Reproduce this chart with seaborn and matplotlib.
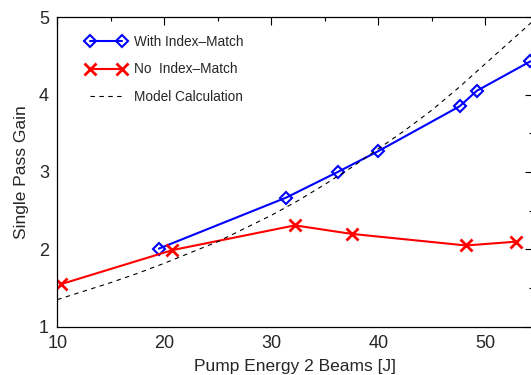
import matplotlib
matplotlib.use("Agg")
import matplotlib.pyplot as plt
from matplotlib.ticker import MultipleLocator
import seaborn as sns
import pandas as pd

# ---- data ----
with_x = [19.5, 31.4, 36.2, 40.0, 47.6, 49.2, 54.2]
with_y = [2.01, 2.67, 3.00, 3.27, 3.85, 4.05, 4.43]

no_x = [10.35, 20.75, 32.2, 37.5, 48.2, 52.9]
no_y = [1.55, 1.99, 2.31, 2.20, 2.05, 2.10]

model_x = [10, 12.5, 15, 17.5, 20, 22.5, 25, 27.5, 30, 32.5, 35, 37.5,
           40, 42.5, 45, 47.5, 50, 52.5, 55]
model_y = [1.35, 1.46, 1.57, 1.69, 1.82, 1.96, 2.10, 2.27, 2.44, 2.63, 2.84,
           3.06, 3.30, 3.54, 3.80, 4.09, 4.40, 4.71, 5.02]

labels = ["With Index\u2013Match", "No  Index\u2013Match", "Model Calculation"]
x_label = "Pump Energy 2 Beams [J]"
y_label = "Single Pass Gain"

sns.set_style("white")
plt.rcParams["font.family"] = ["Liberation Sans", "DejaVu Sans"]

fig = plt.figure(figsize=(5.31, 3.75), dpi=100)
ax = fig.add_axes([57.3 / 531, 48.3 / 375, (533 - 57.3) / 531, (326.7 - 17.3) / 375])

df_w = pd.DataFrame({"x": with_x, "y": with_y})
df_n = pd.DataFrame({"x": no_x, "y": no_y})
df_m = pd.DataFrame({"x": model_x, "y": model_y})

sns.lineplot(data=df_w, x="x", y="y", ax=ax, color="#0000ff", lw=1.5,
             marker="D", markersize=6.5, markerfacecolor="none",
             markeredgecolor="#0000ff", markeredgewidth=1.5, label=labels[0])
sns.lineplot(data=df_n, x="x", y="y", ax=ax, color="#ff0000", lw=1.5,
             marker="x", markersize=8, markeredgewidth=2,
             markeredgecolor="#ff0000", label=labels[1])
sns.lineplot(data=df_m, x="x", y="y", ax=ax, color="black", lw=0.8,
             label=labels[2])
ax.lines[-1].set_dashes((4, 4))

ax.set_xlim(10, 54.45)
ax.set_ylim(1, 5)
ax.xaxis.set_major_locator(MultipleLocator(10))
ax.xaxis.set_minor_locator(MultipleLocator(5))
ax.yaxis.set_major_locator(MultipleLocator(1))
ax.yaxis.set_minor_locator(MultipleLocator(0.5))
ax.tick_params(which="both", direction="in", top=True, right=True,
               color="black", width=0.8, labelsize=13, pad=6)
ax.tick_params(which="major", length=6)
ax.tick_params(which="minor", length=3)
for s in ax.spines.values():
    s.set_color("black")
    s.set_linewidth(0.9)

ax.set_xlabel(x_label, fontsize=12.5, labelpad=5)
ax.set_ylabel(y_label, fontsize=12.5, labelpad=7)

leg = ax.legend(loc="upper left", frameon=False, fontsize=9.8, numpoints=2,
                handlelength=3.0, handletextpad=0.55, labelspacing=0.98,
                bbox_to_anchor=(0.048, 0.96), borderaxespad=0)
for h in leg.legend_handles:
    h.set_markeredgecolor(h.get_color())

fig.savefig("out.png", dpi=100)
